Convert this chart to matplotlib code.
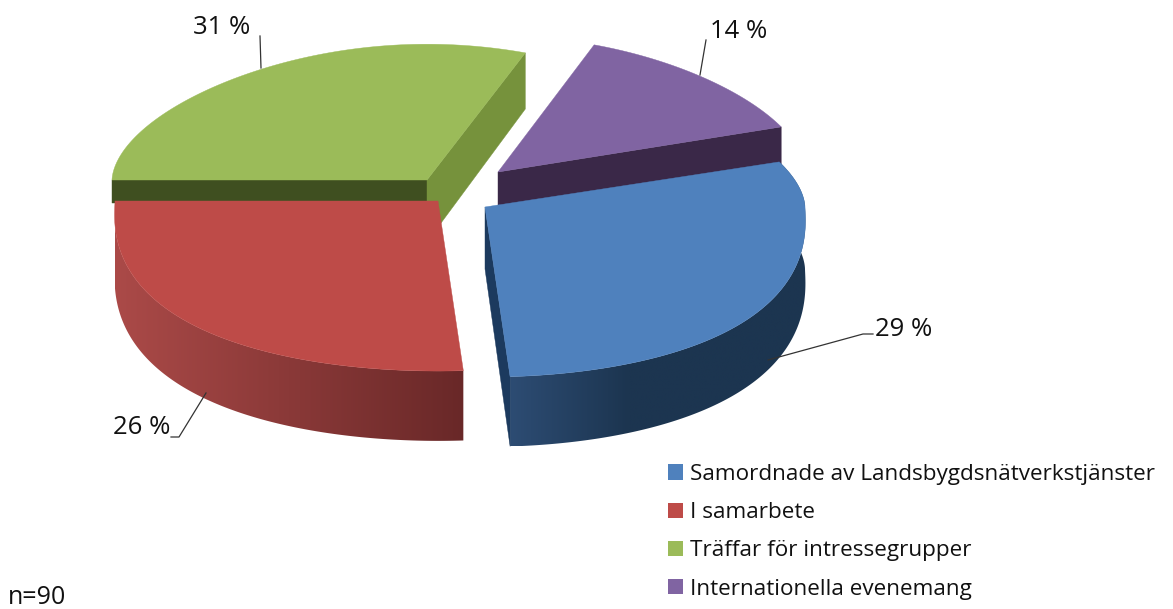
""" Exploded 3D pie of n=90 answers, projected by hand since matplotlib has no such pie """
import numpy as np
import matplotlib
matplotlib.use('Agg')
import matplotlib.pyplot as plt
from matplotlib.colors import to_rgb
from matplotlib.patches import Patch, Polygon

categories = ['Samordnade av Landsbygdsnätverkstjänster', 'I samarbete',
              'Träffar för intressegrupper', 'Internationella evenemang']
shares = [29, 26, 31, 14]
share_labels = ['29 %', '26 %', '31 %', '14 %']
sample_note = 'n=90'

top_colors = ['#4f81bd', '#be4b48', '#9bbb59', '#8064a2']
start_face_colors = ['#1c3a5e', '#7a2f2d', '#3f4f20', '#3a2848']
end_face_colors = ['#1c3a5e', '#7a2f2d', '#76923c', '#3a2848']
# only the two front slices show their outer wall
wall_left = ['#2d4c73', '#ab4a48', None, None]
wall_right = ['#1c3550', '#692828', None, None]
wall_fade = [2.5, 1.0, 1.0, 1.0]   # how fast the wall reaches its right colour

# apex of every exploded slice and its radius on the canvas, in pixels
apexes = [(485, 207), (438, 201), (427, 180), (498, 172)]
radii_x = [320, 323, 315, 308]
start_face_drop = [62, 62, 23, 62]   # green front face disappears behind red
RY, HEIGHT = 151, 62
KX, KY = 0.2, 0.112   # perspective shrink towards the back
START = 18.0          # degrees, slices run clockwise from here

# label text position, then the leader line through the canvas
label_pos = [(875, 330), (113, 428), (193, 28), (710, 31)]
leaders = [[(873, 334), (863, 334), (768, 360)],
           [(171, 437), (179, 437), (206, 393)],
           [(260, 36), (261, 68)],
           [(706, 40), (700, 75)]]


def project(apex, rx, theta, lift=0.0):
    """ Ground circle angle (radians) to canvas pixels, lift pushes down by wall height. """
    u, v = np.cos(theta), np.sin(theta)
    sx = 1 / (1 + KX * v * np.sqrt(np.abs(v)))   # sqrt keeps the rim smooth at the sides
    sy = 1 / (1 + KY * v)
    return apex[0] + rx * u * sx, apex[1] - RY * v * sy + lift * sy


def draw_wall(ax, xt, yt, xb, yb, i, zorder):
    left, right = np.array(to_rgb(wall_left[i])), np.array(to_rgb(wall_right[i]))
    f = np.clip(np.linspace(0, 1, 256) * wall_fade[i], 0, 1)[None, :, None]
    gradient = left[None, None, :] + (right - left)[None, None, :] * f
    im = ax.imshow(gradient, extent=(xt.min(), xt.max(), yb.max(), yt.min()),
                   aspect='auto', zorder=zorder, interpolation='bilinear')
    clip = Polygon(list(zip(xt, yt)) + list(zip(xb[::-1], yb[::-1])), transform=ax.transData)
    im.set_clip_path(clip)


def draw_slice(ax, i, a0, a1, zorder):
    """ a0 > a1 in degrees, clockwise sweep. """
    apex, rx = apexes[i], radii_x[i]
    theta = np.radians(np.linspace(a0, a1, 200))
    xt, yt = project(apex, rx, theta)
    xb, yb = project(apex, rx, theta, HEIGHT)
    base = (apex[0], apex[1] + HEIGHT)

    if wall_left[i] is not None:
        draw_wall(ax, xt, yt, xb, yb, i, zorder)

    # a cut face shows only when its outside looks down the screen
    if xt[0] < apex[0]:
        drop = start_face_drop[i]
        ax.add_patch(Polygon([apex, (xt[0], yt[0]), (xt[0], yt[0] + drop), (apex[0], apex[1] + drop)],
                             fc=start_face_colors[i], ec=start_face_colors[i], lw=0.3, zorder=zorder))
    if xt[-1] > apex[0]:
        ax.add_patch(Polygon([apex, (xt[-1], yt[-1]), (xb[-1], yb[-1]), base], fc=end_face_colors[i],
                             ec=end_face_colors[i], lw=0.3, zorder=zorder))

    ax.add_patch(Polygon([apex] + list(zip(xt, yt)), fc=top_colors[i], ec=top_colors[i], lw=0.3, zorder=zorder))


fig = plt.figure(figsize=(11.73, 6.09), dpi=100)
ax = fig.add_axes([0, 0, 1, 1])

sweeps = np.array(shares) / sum(shares) * 360
ends = START - np.cumsum(sweeps)
starts = ends + sweeps

# back slices first, front ones lie on top of them
for zorder, i in enumerate([2, 3, 1, 0]):
    draw_slice(ax, i, starts[i], ends[i], zorder + 1)

ax.set_xlim(0, 1173)
ax.set_ylim(609, 0)
ax.axis('off')

for i, text in enumerate(share_labels):
    ax.text(label_pos[i][0], label_pos[i][1], text, fontsize=18.5, family='Open Sans',
            va='center', ha='left', color='#111111', zorder=10)
    xs, ys = zip(*leaders[i])
    ax.plot(xs, ys, color='#333333', lw=0.9, zorder=9)

handles = [Patch(fc=c, ec='none') for c in top_colors]
ax.legend(handles, categories, loc='upper left', bbox_to_anchor=(668, 464), bbox_transform=ax.transData,
          frameon=False, prop={'family': 'Open Sans', 'size': 16.2}, handlelength=0.67, handleheight=0.67,
          handletextpad=0.31, labelspacing=0.765, borderpad=0, borderaxespad=0, labelcolor='#111111')

ax.text(8, 597, sample_note, fontsize=18, family='Open Sans', va='center', ha='left', color='#111111')

fig.savefig('out.png', dpi=100)
